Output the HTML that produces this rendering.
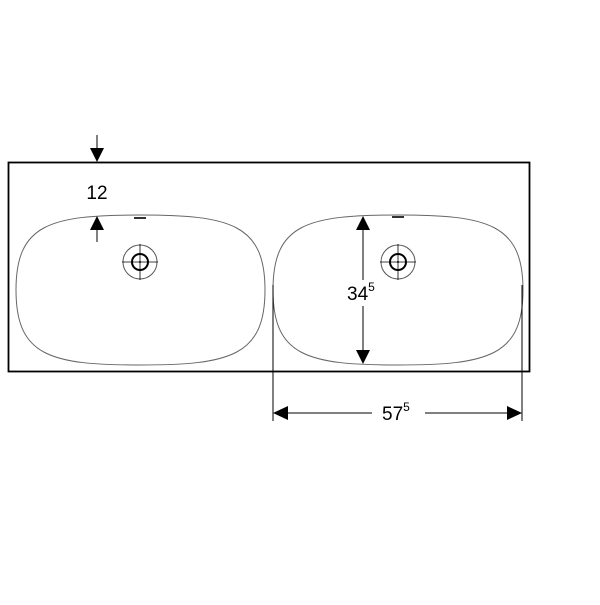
<!DOCTYPE html>
<html><head><style>body{margin:0;background:#fff}</style></head><body>
<svg width="600" height="600" viewBox="0 0 600 600" xmlns="http://www.w3.org/2000/svg" font-family="Liberation Sans, sans-serif">
<rect x="0" y="0" width="600" height="600" fill="#fff"/>
<rect x="8.5" y="162.5" width="521" height="209" fill="none" stroke="#000" stroke-width="1.8"/>
<g fill="none" stroke="#666" stroke-width="1">
<path d="M16,290 C16,224 50,215 140,215 C230,215 265,224 265,290 C265,356 230,365 140,365 C50,365 16,356 16,290 Z"/>
<path d="M273,290 C273,224 307,215 398,215 C488,215 523,224 523,290 C523,356 488,365 398,365 C307,365 273,356 273,290 Z"/>
</g>
<g stroke="#000" fill="none">
<circle cx="140" cy="262" r="8" stroke-width="2"/>
<circle cx="140" cy="262" r="17" stroke="#555" stroke-width="1"/>
<path d="M122,262H158M140,244V280" stroke-width="0.8"/>
<circle cx="398" cy="262" r="8" stroke-width="2"/>
<circle cx="398" cy="262" r="17" stroke="#555" stroke-width="1"/>
<path d="M380,262H416M398,244V280" stroke-width="0.8"/>
<path d="M134,218H146M392,217H404" stroke="#333" stroke-width="2"/>
</g>
<circle cx="140" cy="262" r="1" fill="#000"/><circle cx="398" cy="262" r="1" fill="#000"/>
<g stroke="#000" stroke-width="1">
<path d="M97,135V150"/>
<path d="M97,228V242"/>
<path d="M363,228V350"/>
<path d="M273,285V421M522,285V421"/>
<path d="M285,413H372M425,413H510"/>
</g>
<g fill="#000">
<polygon points="90,148 104,148 97,162"/>
<polygon points="90,230 104,230 97,216"/>
<polygon points="356,230 370,230 363,216"/>
<polygon points="356,350 370,350 363,364"/>
<polygon points="288,406 288,420 273,413"/>
<polygon points="507,406 507,420 522,413"/>
</g>
<rect x="344" y="280" width="40" height="26" fill="#fff"/>
<text x="97" y="199" font-size="19" text-anchor="middle">12</text>
<text x="347" y="300" font-size="19">34<tspan font-size="12" dy="-9">5</tspan></text>
<text x="382" y="420" font-size="19">57<tspan font-size="12" dy="-9">5</tspan></text>
</svg>
</body></html>
